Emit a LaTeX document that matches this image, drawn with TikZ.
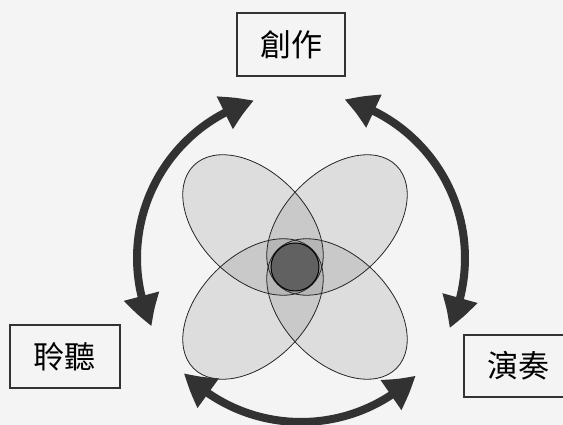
\documentclass[tikz,border=0pt]{standalone}
\usepackage{fontspec}
\newfontfamily\cjk{Noto Sans CJK TC}
\usepackage{tikz}
\usetikzlibrary{arrows.meta,bending,positioning,calc}
\definecolor{inkgray}{RGB}{50,50,50}
\definecolor{paper}{RGB}{244,244,244}

\begin{document}
\begin{tikzpicture}[
    x=1pt, y=1pt,
    every node/.style={font=\cjk\fontsize{31}{36}\selectfont},
    rolebox/.style={rectangle, draw=inkgray, line width=1.5pt, minimum width=108pt, minimum height=63pt, inner sep=0pt},
    petal/.style={fill=black, fill opacity=0.09, x radius=84, y radius=53},
    petalline/.style={draw=black!85, line width=0.8pt, x radius=84, y radius=53},
    cyclearrow/.style={{Triangle[length=32pt, width=34pt, bend]}-{Triangle[length=32pt, width=34pt, bend]}, line width=8pt, draw=inkgray}
]

% ============ FRAME ============
\fill[paper] (0,0) rectangle (563,425);
\useasboundingbox (0,0) rectangle (563,425);

% ============ ROLES ============
\node[rolebox] (create) at (291,380.5) {創作};
\node[rolebox, minimum width=110pt] (listen) at (65,68.5) {聆聽};
\node[rolebox, minimum height=62pt] (perform) at (518,59) {演奏};

% ============ FLOWER ============
\coordinate (core) at (295,158);
\fill[petal, rotate around={-45:(253,200)}] (253,200) ellipse [];
\fill[petal, rotate around={45:(337,200)}] (337,200) ellipse [];
\fill[petal, rotate around={45:(253,116)}] (253,116) ellipse [];
\fill[petal, rotate around={-45:(337,116)}] (337,116) ellipse [];

\draw[petalline, rotate around={-45:(253,200)}] (253,200) ellipse [];
\draw[petalline, rotate around={45:(337,200)}] (337,200) ellipse [];
\draw[petalline, rotate around={45:(253,116)}] (253,116) ellipse [];
\draw[petalline, rotate around={-45:(337,116)}] (337,116) ellipse [];

\node[circle, draw=black, line width=1pt, fill=black!62, minimum size=48pt, inner sep=0pt] (heart) at (core) {};

% ============ CYCLE ARROWS ============
\coordinate (hub) at (301,167);
\draw[cyclearrow] ([shift={(106.6:164)}]hub) arc[start angle=106.6, end angle=204.6, radius=164];
\draw[cyclearrow] ([shift={(74.7:164)}]hub) arc[start angle=74.7, end angle=-25.3, radius=164];
\draw[cyclearrow] ([shift={(224.5:164)}]hub) arc[start angle=224.5, end angle=314.3, radius=164];

\end{tikzpicture}
\end{document}
